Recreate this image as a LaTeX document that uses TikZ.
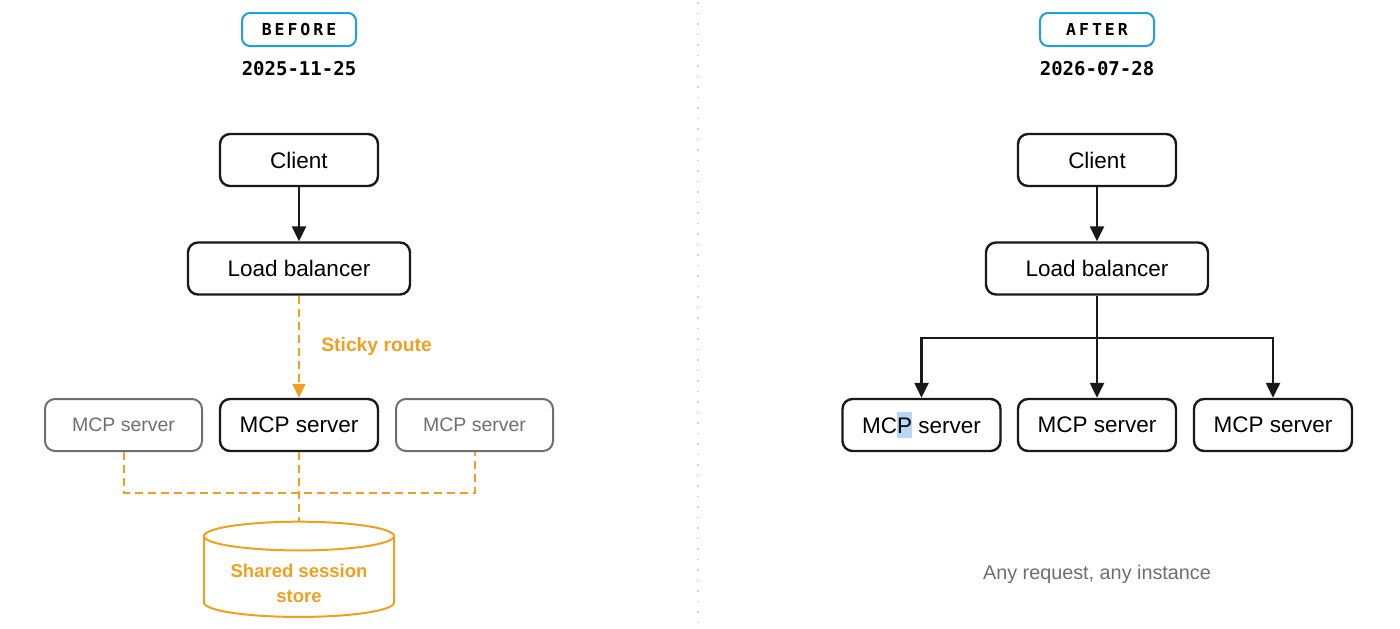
\documentclass[tikz,border=0pt]{standalone}
\usepackage{fontspec}
\setmainfont{Liberation Sans}
\newfontfamily\datefont{DejaVu Sans Mono}
\newfontfamily\tagfont[LetterSpace=18]{DejaVu Sans Mono}
\usetikzlibrary{shapes.geometric, arrows.meta, positioning}
\definecolor{routeor}{HTML}{F0A020}
\definecolor{tagblue}{HTML}{1E9FE0}
\definecolor{dimgray}{HTML}{6E6E73}
\definecolor{selblue}{HTML}{B8D7F7}

\begin{document}
\begin{tikzpicture}[x=1pt,y=-1pt,
  tag/.style={rectangle,draw=tagblue,line width=2pt,rounded corners=8pt, minimum width=114pt,minimum height=33pt,inner sep=0pt,font=\tagfont\bfseries\fontsize{16.5}{18}\selectfont},
  date/.style={font=\datefont\bfseries\fontsize{19}{22}\selectfont},
  box/.style={rectangle,draw=black!90,line width=2.4pt,rounded corners=10pt, minimum height=52pt,inner sep=0pt,align=center,font=\fontsize{22.5}{26}\selectfont},
  idle/.style={box,draw=dimgray,line width=2pt,text=dimgray,font=\fontsize{19.5}{23}\selectfont},
  store/.style={cylinder,draw=routeor,line width=2pt,shape border rotate=90,aspect=0.21, minimum width=190pt,minimum height=89pt,align=center,text=routeor,font=\bfseries\fontsize{18.5}{25}\selectfont,inner sep=0pt},
  fl/.style={-{Triangle[length=15pt,width=14pt]},line width=2.4pt,black!90},
  dsh/.style={draw=routeor,line width=2pt,dash pattern=on 8pt off 5pt}
]
  \useasboundingbox (0,0) rectangle (1400,629);
  \draw[black!18,line width=1.5pt,dash pattern=on 1.5pt off 9pt] (698,2) -- (698,629);

  % before
  \node[tag]  (tagb)  at (299,29.5) {BEFORE};
  \node[date] (dateb) at (299,69)   {2025-11-25};
  \node[box,minimum width=158pt] (clia) at (299,160)   {Client};
  \node[box,minimum width=222pt] (lba)  at (299,268.5) {Load balancer};
  \node[idle,minimum width=157pt] (srva) at (123.5,425) {MCP server};
  \node[box,minimum width=158pt]  (srvb) at (299,425)   {MCP server};
  \node[idle,minimum width=157pt] (srvc) at (474.5,425) {MCP server};
  \node[store] (sess) at (299,577) {\rule{0pt}{26pt}Shared session\\store};
  \coordinate (hub) at (299,493);

  \draw[fl](clia)--(lba);
  \draw[dsh,-{Triangle[length=14pt,width=13pt]},routeor](lba)--node[right=18pt,pos=0.5,text=routeor,font=\bfseries\fontsize{19.3}{22}\selectfont]{Sticky route}(srvb);
  \draw[dsh](srva.south)|-(hub)-|(srvc.south);
  \draw[dsh](srvb.south)--(sess.north);

  % after
  \node[tag]  (taga)  at (1097,29.5) {AFTER};
  \node[date] (datea) at (1097,69)   {2026-07-28};
  \node[box,minimum width=158pt] (clib) at (1097,160)   {Client};
  \node[box,minimum width=222pt] (lbb)  at (1097,268.5) {Load balancer};
  \node[box,minimum width=158pt] (srvd) at (921.5,425)  {MC{\setlength{\fboxsep}{0pt}\colorbox{selblue}{\rule[-5pt]{0pt}{26pt}P}} server};
  \node[box,minimum width=158pt] (srve) at (1097,425)   {MCP server};
  \node[box,minimum width=158pt] (srvf) at (1273,425)   {MCP server};
  \coordinate (split) at (1097,338);
  \node[text=dimgray,font=\fontsize{19.8}{23}\selectfont] (note) at (1097,574) {Any request, any instance};

  \draw[fl](clib)--(lbb);
  \draw[line width=2.4pt,black!90](lbb)--(split);
  \draw[fl](split)-|(srvd.north);
  \draw[fl](split)-|(srvf.north);
  \draw[fl](lbb)--(srve);
\end{tikzpicture}
\end{document}
